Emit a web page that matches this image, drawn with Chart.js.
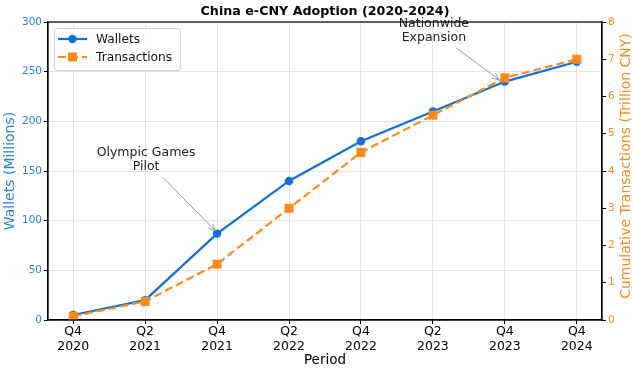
<!DOCTYPE html>
<html>
<head>
<meta charset="utf-8">
<script src="https://cdn.jsdelivr.net/npm/chart.js@4.4.1/dist/chart.umd.min.js"></script>
<style>
html,body{margin:0;padding:0;background:#fff;}
#wrap{width:633px;height:370px;position:relative;}
</style>
</head>
<body>
<div id="wrap"><canvas id="c" width="633" height="370"></canvas></div>
<script>
const periods = ['Q4 2020','Q2 2021','Q4 2021','Q2 2022','Q4 2022','Q2 2023','Q4 2023','Q4 2024'];
const wallets = [5, 20, 87, 140, 180, 210, 240, 260];
const transactions = [0.1, 0.5, 1.5, 3.0, 4.5, 5.5, 6.5, 7.0];
const walletTicks = [0, 50, 100, 150, 200, 250, 300];
const txTicks = [0, 1, 2, 3, 4, 5, 6, 7, 8];
const annotations = [
  {index: 2, series: 'wallets', lines: ['Olympic Games', 'Pilot'], tx: -71, ty: -81, sx: -54, sy: -56, ex: -2, ey: -3},
  {index: 6, series: 'wallets', lines: ['Nationwide', 'Expansion'], tx: -71, ty: -58, sx: -49, sy: -34, ex: -6, ey: -2}
];

const BLUE = '#1170d6';
const BLUE_T = '#2a80d8';
const ORANGE = '#ff8a1c';
const GRID = 'rgba(176,176,176,0.35)';
const FONT = "'DejaVu Sans', sans-serif";

const frame = {
  id: 'frame',
  afterDatasetsDraw(chart) {
    const ctx = chart.ctx, a = chart.chartArea;
    ctx.save();
    annotations.forEach(an => {
      const px = chart.scales.x.getPixelForValue(an.index);
      const val = an.series === 'wallets' ? wallets[an.index] : transactions[an.index];
      const py = chart.scales[an.series === 'wallets' ? 'y' : 'y2'].getPixelForValue(val);
      ctx.strokeStyle = '#999';
      ctx.lineWidth = 1;
      const x1 = px + an.sx, y1 = py + an.sy, x2 = px + an.ex, y2 = py + an.ey;
      ctx.beginPath(); ctx.moveTo(x1, y1); ctx.lineTo(x2, y2); ctx.stroke();
      const ang = Math.atan2(y2 - y1, x2 - x1);
      const hl = 7, hw = 0.45;
      ctx.beginPath();
      ctx.moveTo(x2 - hl * Math.cos(ang - hw), y2 - hl * Math.sin(ang - hw));
      ctx.lineTo(x2, y2);
      ctx.lineTo(x2 - hl * Math.cos(ang + hw), y2 - hl * Math.sin(ang + hw));
      ctx.stroke();
      ctx.fillStyle = '#222';
      ctx.font = '12.5px ' + FONT;
      ctx.textAlign = 'center';
      ctx.textBaseline = 'middle';
      an.lines.forEach((t, k) => ctx.fillText(t, px + an.tx, py + an.ty + k * 14.5));
    });
    const lx = a.left + 6, ly = a.top + 6, lw = 126, lh = 42;
    ctx.fillStyle = 'rgba(255,255,255,0.85)';
    ctx.strokeStyle = '#d0d0d0';
    ctx.lineWidth = 1;
    ctx.beginPath();
    ctx.roundRect(lx + 0.5, ly + 0.5, lw, lh, 3);
    ctx.fill(); ctx.stroke();
    chart.data.datasets.forEach((ds, k) => {
      const y = ly + 11 + k * 18;
      ctx.strokeStyle = ds.borderColor;
      ctx.lineWidth = 2.2;
      ctx.setLineDash(ds.borderDash || []);
      ctx.beginPath(); ctx.moveTo(lx + 4, y); ctx.lineTo(lx + 33, y); ctx.stroke();
      ctx.setLineDash([]);
      ctx.fillStyle = ds.backgroundColor;
      if (ds.pointStyle === 'rect') {
        ctx.fillRect(lx + 18.5 - 4.5, y - 4.5, 9, 9);
      } else {
        ctx.beginPath(); ctx.arc(lx + 18.5, y, 4.2, 0, Math.PI * 2); ctx.fill();
      }
      ctx.fillStyle = '#111';
      ctx.font = '12.2px ' + FONT;
      ctx.textAlign = 'left';
      ctx.textBaseline = 'middle';
      ctx.fillText(ds.label, lx + 42, y + 1);
    });
    ctx.restore();
  },
  afterDraw(chart) {
    const ctx = chart.ctx, a = chart.chartArea;
    ctx.save();
    ctx.strokeStyle = '#000';
    ctx.lineWidth = 1.2;
    ctx.strokeRect(a.left, a.top, a.right - a.left, a.bottom - a.top);
    // title centred over plot area
    ctx.fillStyle = '#000';
    ctx.font = 'bold 12.7px ' + FONT;
    ctx.textAlign = 'center';
    ctx.textBaseline = 'alphabetic';
    ctx.fillText('China e-CNY Adoption (2020-2024)', (a.left + a.right) / 2, 15);
    // right axis title (bottom-to-top)
    ctx.translate(626, (a.top + a.bottom) / 2 - 5);
    ctx.rotate(-Math.PI / 2);
    ctx.fillStyle = ORANGE;
    ctx.font = '14px ' + FONT;
    ctx.textAlign = 'center';
    ctx.textBaseline = 'middle';
    ctx.fillText('Cumulative Transactions (Trillion CNY)', 0, 0);
    ctx.restore();
  }
};

new Chart(document.getElementById('c'), {
  type: 'line',
  data: {
    datasets: [
      {
        label: 'Wallets',
        data: wallets.map((v, i) => ({x: i, y: v})),
        yAxisID: 'y',
        borderColor: BLUE,
        backgroundColor: BLUE,
        borderWidth: 2.2,
        pointStyle: 'circle',
        pointRadius: 4.2,
        pointBorderWidth: 0,
        order: 1,
        tension: 0
      },
      {
        label: 'Transactions',
        data: transactions.map((v, i) => ({x: i, y: v})),
        yAxisID: 'y2',
        borderColor: ORANGE,
        backgroundColor: ORANGE,
        borderWidth: 2.2,
        borderDash: [8, 4],
        pointStyle: 'rect',
        pointRadius: 6.4,
        pointBorderWidth: 0,
        order: 0,
        tension: 0
      }
    ]
  },
  options: {
    responsive: false,
    animation: false,
    layout: {padding: {top: 22, left: 0, right: 0, bottom: 0}},
    plugins: {
      legend: {display: false},
      tooltip: {enabled: false},
      title: {display: false}
    },
    scales: {
      x: {
        type: 'linear',
        min: -0.35,
        max: 7.35,
        afterBuildTicks(s) { s.ticks = periods.map((p, i) => ({value: i})); },
        afterFit(s) { s.height = 50; },
        ticks: {
          autoSkip: false,
          maxRotation: 0,
          color: '#000',
          padding: 1,
          font: {family: FONT, size: 12.5, lineHeight: 1.15},
          callback: (v) => periods[v] ? periods[v].split(' ') : ''
        },
        grid: {color: GRID, tickColor: '#000', tickLength: 4, lineWidth: 1},
        border: {color: '#000', width: 1.2},
        title: {display: true, text: 'Period', color: '#000', font: {family: FONT, size: 13.5}, padding: {top: 0, bottom: 1}}
      },
      y: {
        type: 'linear',
        position: 'left',
        min: 0,
        max: 300,
        afterBuildTicks(s) { s.ticks = walletTicks.map(v => ({value: v})); },
        afterFit(s) { s.width = 48; },
        ticks: {color: BLUE_T, padding: 2, font: {family: FONT, size: 10.5}},
        grid: {color: GRID, tickColor: '#000', tickLength: 4},
        border: {color: '#000', width: 1.2},
        title: {display: true, text: 'Wallets (Millions)', color: BLUE_T, font: {family: FONT, size: 14}, padding: {top: 2, bottom: 0}}
      },
      y2: {
        type: 'linear',
        position: 'right',
        min: 0,
        max: 8,
        afterBuildTicks(s) { s.ticks = txTicks.map(v => ({value: v})); },
        afterFit(s) { s.width = 31; },
        ticks: {color: ORANGE, padding: 2, font: {family: FONT, size: 10.5}},
        grid: {drawOnChartArea: false, color: '#000', tickColor: '#000', tickLength: 4},
        border: {color: '#000', width: 1.2}
      }
    }
  },
  plugins: [frame]
});
</script>
</body>
</html>
